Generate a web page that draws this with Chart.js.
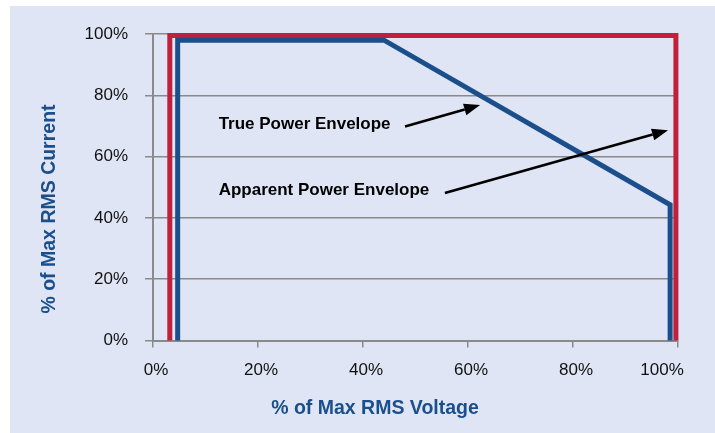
<!DOCTYPE html>
<html>
<head>
<meta charset="utf-8">
<script src="https://cdn.jsdelivr.net/npm/chart.js@4.4.1/dist/chart.umd.min.js"></script>
<style>
html, body { margin: 0; padding: 0; background: #fff; }
canvas { display: block; }
</style>
</head>
<body>
<canvas id="c" width="715" height="433"></canvas>
<script>
// data ------------------------------------------
const xTicks = [0, 20, 40, 60, 80, 100];
const yTicks = [0, 20, 40, 60, 80, 100];

// apparent power envelope (red)
const apparentX = [3.2, 3.2, 99.6, 99.6];
const apparentY = [0, 99.5, 99.5, 0];

// true power envelope (blue)
const trueX = [4.7, 4.7, 44, 98.5, 98.5];
const trueY = [0, 98, 98, 44.3, 0];

const noteText = ['True Power Envelope', 'Apparent Power Envelope'];
// note text anchor, arrow start, arrow tip (in axis units)
const noteAt = [[12.5, 70.5], [12.5, 49]];
const arrowFrom = [[48, 69.8], [55.6, 48.1]];
const arrowTo = [[62.3, 76.8], [98.1, 68.6]];

const xTitle = '% of Max RMS Voltage';
const yTitle = '% of Max RMS Current';

// ------------------------------------------------
const FONT = "'Liberation Sans', Arial, sans-serif";
const BLUE = '#1b4f8b';
const RED = '#c1203a';
const GRID = '#8a8a8a';

function pts(xs, ys) {
    return xs.map(function (x, i) { return { x: x, y: ys[i] }; });
}

// panel + notes + axis titles
const decor = {
    id: 'decor',
    beforeDraw: function (chart) {
        const ctx = chart.ctx;
        ctx.save();
        ctx.fillStyle = '#fff';
        ctx.fillRect(0, 0, chart.width, chart.height);
        ctx.fillStyle = '#dfe5f4';
        ctx.fillRect(10, 6, chart.width - 10, chart.height - 6);
        ctx.restore();
    },
    afterDraw: function (chart) {
        const ctx = chart.ctx;
        const sx = chart.scales.x, sy = chart.scales.y;
        ctx.save();

        // notes
        ctx.fillStyle = '#000';
        ctx.font = 'bold 17px ' + FONT;
        ctx.textBaseline = 'middle';
        ctx.textAlign = 'left';
        for (var i = 0; i < noteText.length; i++) {
            ctx.fillText(noteText[i], sx.getPixelForValue(noteAt[i][0]), sy.getPixelForValue(noteAt[i][1]));
        }

        // arrows
        ctx.strokeStyle = '#000';
        ctx.lineWidth = 2.5;
        for (var i = 0; i < arrowFrom.length; i++) {
            var x1 = sx.getPixelForValue(arrowFrom[i][0]), y1 = sy.getPixelForValue(arrowFrom[i][1]);
            var x2 = sx.getPixelForValue(arrowTo[i][0]), y2 = sy.getPixelForValue(arrowTo[i][1]);
            var a = Math.atan2(y2 - y1, x2 - x1);
            var hl = 16, hw = 6;
            var bx = x2 - hl * Math.cos(a), by = y2 - hl * Math.sin(a);
            ctx.beginPath();
            ctx.moveTo(x1, y1);
            ctx.lineTo(bx, by);
            ctx.stroke();
            ctx.beginPath();
            ctx.moveTo(x2, y2);
            ctx.lineTo(bx + hw * Math.sin(a), by - hw * Math.cos(a));
            ctx.lineTo(bx - hw * Math.sin(a), by + hw * Math.cos(a));
            ctx.closePath();
            ctx.fill();
        }

        // axis titles
        ctx.fillStyle = BLUE;
        ctx.font = 'bold 19.5px ' + FONT;
        ctx.textAlign = 'center';
        ctx.fillText(xTitle, 375, 409);
        ctx.translate(50, 209);
        ctx.rotate(-Math.PI / 2);
        ctx.fillText(yTitle, 0, 0);
        ctx.restore();
    }
};

new Chart(document.getElementById('c'), {
    type: 'scatter',
    data: {
        datasets: [
            {
                data: pts(trueX, trueY),
                showLine: true,
                borderColor: BLUE,
                borderWidth: 5,
                borderJoinStyle: 'miter',
                pointRadius: 0,
                clip: false
            },
            {
                data: pts(apparentX, apparentY),
                showLine: true,
                borderColor: RED,
                borderWidth: 5,
                borderJoinStyle: 'miter',
                pointRadius: 0,
                clip: false
            }
        ]
    },
    options: {
        responsive: false,
        animation: false,
        devicePixelRatio: 1,
        layout: { padding: { left: 0, right: 37, top: 34, bottom: 0 } },
        plugins: { legend: { display: false }, tooltip: { enabled: false } },
        scales: {
            x: {
                type: 'linear',
                min: 0,
                max: 100,
                afterBuildTicks: function (s) { s.ticks = xTicks.map(function (v) { return { value: v }; }); },
                afterFit: function (s) { s.height = 92.5; s.paddingLeft = 0; s.paddingRight = 0; },
                border: { color: GRID, width: 2 },
                grid: { drawOnChartArea: false, color: GRID, lineWidth: 1.5, tickLength: 7 },
                ticks: {
                    padding: 13,
                    labelOffset: 3,
                    color: '#111',
                    font: { family: FONT, size: 17 },
                    // last label sits left of its tick in the original
                    callback: function (v) { return v === 100 ? v + '%' + '        ' : v + '%'; }
                }
            },
            y: {
                type: 'linear',
                min: 0,
                max: 100,
                afterBuildTicks: function (s) { s.ticks = yTicks.map(function (v) { return { value: v }; }); },
                afterFit: function (s) { s.width = 153; s.paddingTop = 0; s.paddingBottom = 0; },
                border: { color: GRID, width: 2 },
                grid: { color: GRID, lineWidth: 1.5, tickLength: 8 },
                ticks: {
                    padding: 17,
                    color: '#111',
                    font: { family: FONT, size: 17 },
                    callback: function (v) { return v + '%'; }
                }
            }
        }
    },
    plugins: [decor]
});
</script>
</body>
</html>
